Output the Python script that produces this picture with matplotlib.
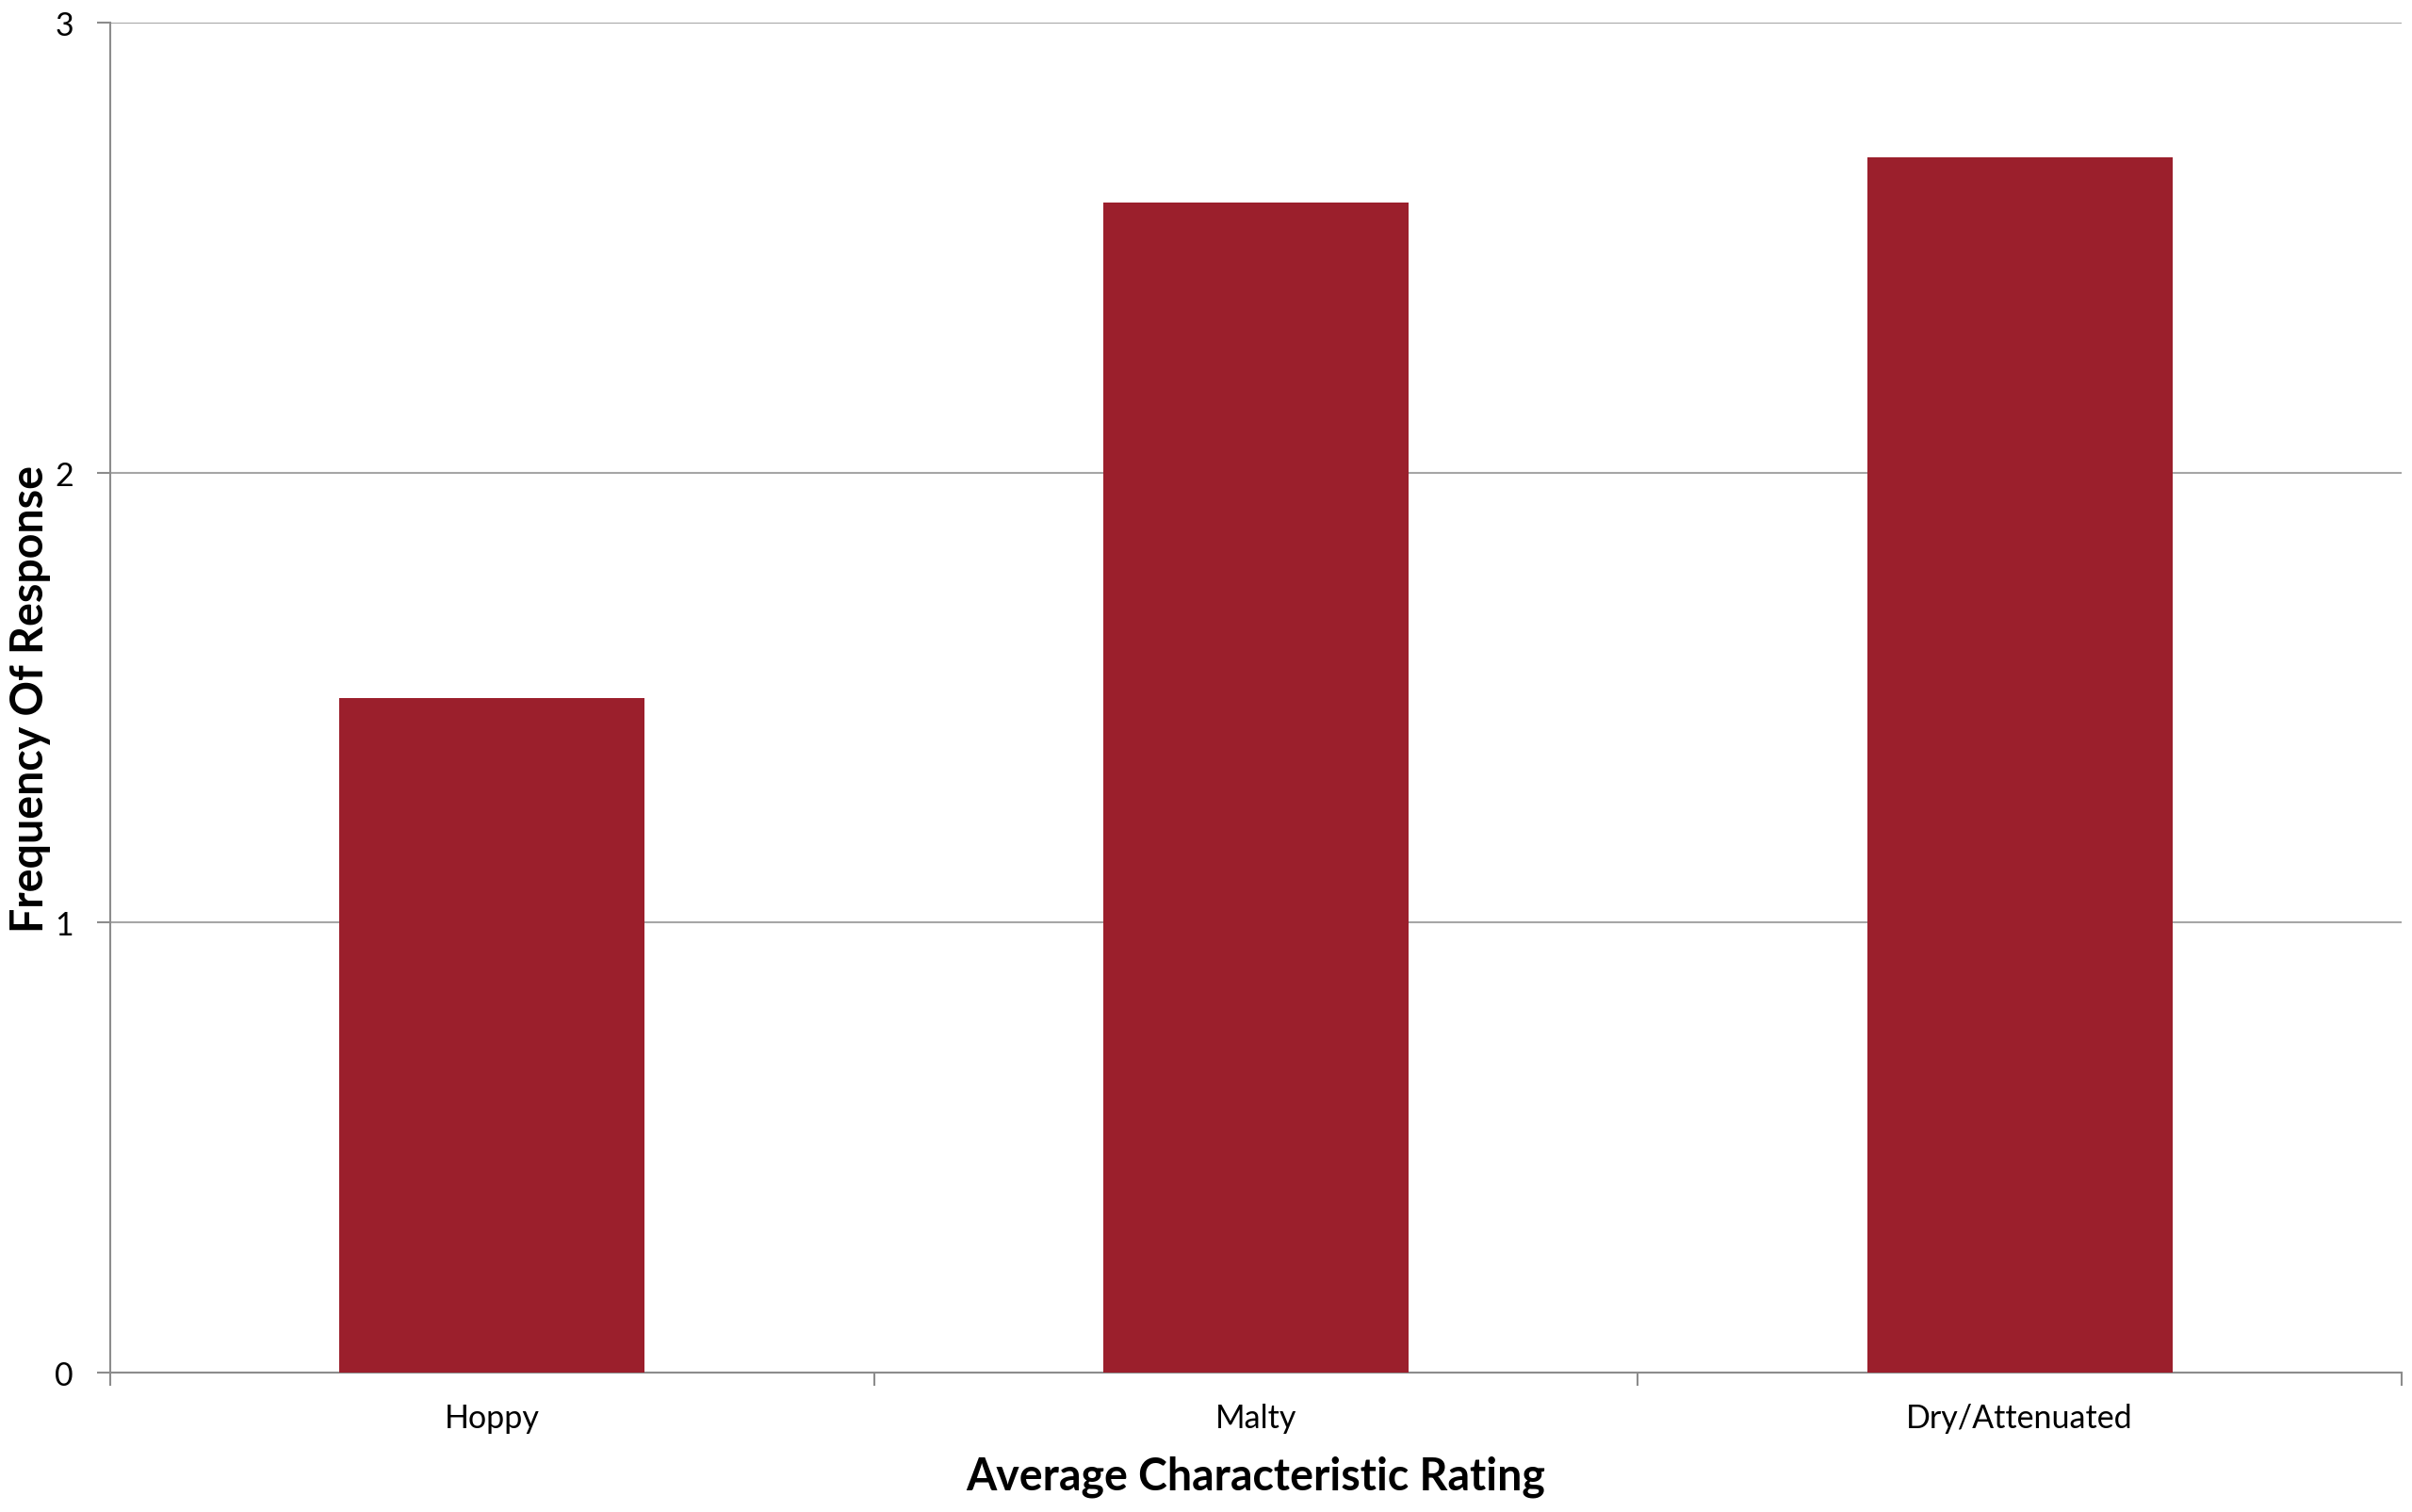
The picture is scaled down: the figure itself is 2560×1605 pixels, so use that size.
import numpy as np
import matplotlib.pyplot as plt

# Survey results
categories = ["Hoppy", "Malty", "Dry/Attenuated"]
frequency = [1.5, 2.6, 2.7]
y_ticks = [0, 1, 2, 3]

plt.rcParams['font.family'] = ['Lato', 'DejaVu Sans']

fig = plt.figure(figsize=(25.6, 16.06), dpi=100)
ax = fig.add_axes([0.0457, 0.0921, 0.9500, 0.8923])

x = np.arange(len(categories))
ax.bar(x, frequency, width=0.4, color='#9B1F2C', zorder=3)

ax.set_xlim(-0.5, len(categories) - 0.5)
ax.set_ylim(0, 3)
ax.set_yticks(y_ticks)
ax.yaxis.grid(True, color='#a6a6a6', linewidth=1.5, zorder=0)

# category labels centred, tick marks at category boundaries
ax.set_xticks(x)
ax.set_xticklabels(categories, fontsize=24.5)
ax.set_xticks(np.arange(-0.5, len(categories)), minor=True)
ax.tick_params(axis='x', which='major', length=0, pad=23)
ax.tick_params(axis='x', which='minor', length=10, width=1.5, color='#8c8c8c')
ax.tick_params(axis='y', length=10, width=1.5, color='#8c8c8c', labelsize=24.5, pad=18)

for side in ['top', 'right']:
    ax.spines[side].set_visible(False)
for side in ['left', 'bottom']:
    ax.spines[side].set_color('#8c8c8c')
    ax.spines[side].set_linewidth(1.5)

ax.set_xlabel('Average Characteristic Rating', fontsize=33.5, fontweight='bold', labelpad=17)
ax.set_ylabel('Frequency Of Response', fontsize=33.5, fontweight='bold', labelpad=3)

plt.savefig('out.png', dpi=100)
